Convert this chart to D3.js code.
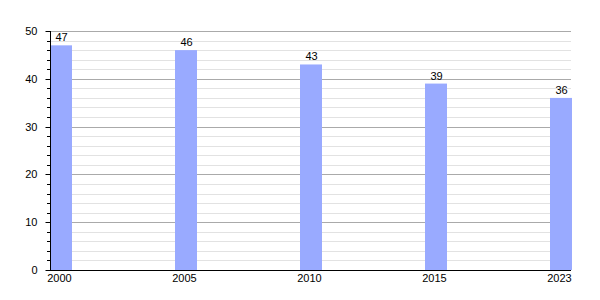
<!DOCTYPE html>
<html><head><meta charset="utf-8">
<script src="https://cdn.jsdelivr.net/npm/d3@7"></script>
<style>body{margin:0;background:#fff}text{font-family:"Liberation Sans",Arial,sans-serif}</style>
</head><body><svg id="c" width="600" height="300"></svg>
<script>
const years = ["2000","2005","2010","2015","2023"];
const values = [47,46,43,39,36];
const yTicks = [0,10,20,30,40,50];

(function(){
const svg = d3.select("#c");
const mLeft = 50, mRight = 571, mTop = 31, mBottom = 270, barW = 21;
const x = d3.scaleBand().domain(years).range([mLeft, mLeft + 125*years.length]).paddingInner(0).paddingOuter(0);
const y = d3.scaleLinear().domain([0,50]).range([mBottom, mTop]);

const minor = d3.range(0, 51, 2).filter(v => v % 10 !== 0);
svg.append("g").selectAll("line").data(minor).join("line")
  .attr("x1", mLeft).attr("x2", mRight).attr("y1", d => Math.round(y(d))+0.5).attr("y2", d => Math.round(y(d))+0.5)
  .attr("stroke", "#e2e2e2").attr("stroke-width", 1);
svg.append("g").selectAll("line").data(yTicks.filter(v=>v>0)).join("line")
  .attr("x1", mLeft).attr("x2", mRight).attr("y1", d => Math.round(y(d))+0.5).attr("y2", d => Math.round(y(d))+0.5)
  .attr("stroke", "#aaaaaa").attr("stroke-width", 1);

svg.append("g").selectAll("rect").data(values).join("rect")
  .attr("x", (d,i) => x(years[i])).attr("y", d => y(d))
  .attr("width", barW+1).attr("height", d => mBottom - y(d))
  .attr("fill", "#99aaff");

svg.append("g").selectAll("text").data(values).join("text")
  .attr("x", (d,i) => x(years[i]) + 1 + barW/2).attr("y", d => y(d) - 4)
  .attr("text-anchor", "middle").attr("font-size", 11).attr("fill", "#000")
  .text(d => d);

// y axis
const yAxis = d3.axisLeft(y).tickValues(yTicks).tickSize(5).tickPadding(8);
const gy = svg.append("g").attr("transform", `translate(${mLeft+0.5},0)`).call(yAxis);
gy.select(".domain").attr("stroke", "#000").attr("d", `M0,${mTop}V${mBottom+0.5}`);
gy.selectAll(".tick line").attr("stroke", "#000");
gy.selectAll(".tick text").attr("font-size", 11).attr("fill", "#000").attr("font-family", "Liberation Sans, Arial, sans-serif");
gy.selectAll(".tick").attr("transform", d => `translate(0,${Math.round(y(d))+0.5})`);
svg.append("g").selectAll("line").data(minor).join("line")
  .attr("x1", mLeft-3).attr("x2", mLeft).attr("y1", d => Math.round(y(d))+0.5).attr("y2", d => Math.round(y(d))+0.5)
  .attr("stroke", "#000");

// x axis
svg.append("line").attr("x1", mLeft).attr("x2", mRight).attr("y1", mBottom+0.5).attr("y2", mBottom+0.5).attr("stroke", "#000");
svg.append("g").selectAll("text").data(years).join("text")
  .attr("x", d => x(d) + 1 + barW/2 - 2).attr("y", mBottom + 12)
  .attr("text-anchor", "middle").attr("font-size", 11).attr("fill", "#000")
  .text(d => d);
})();
</script></body></html>
